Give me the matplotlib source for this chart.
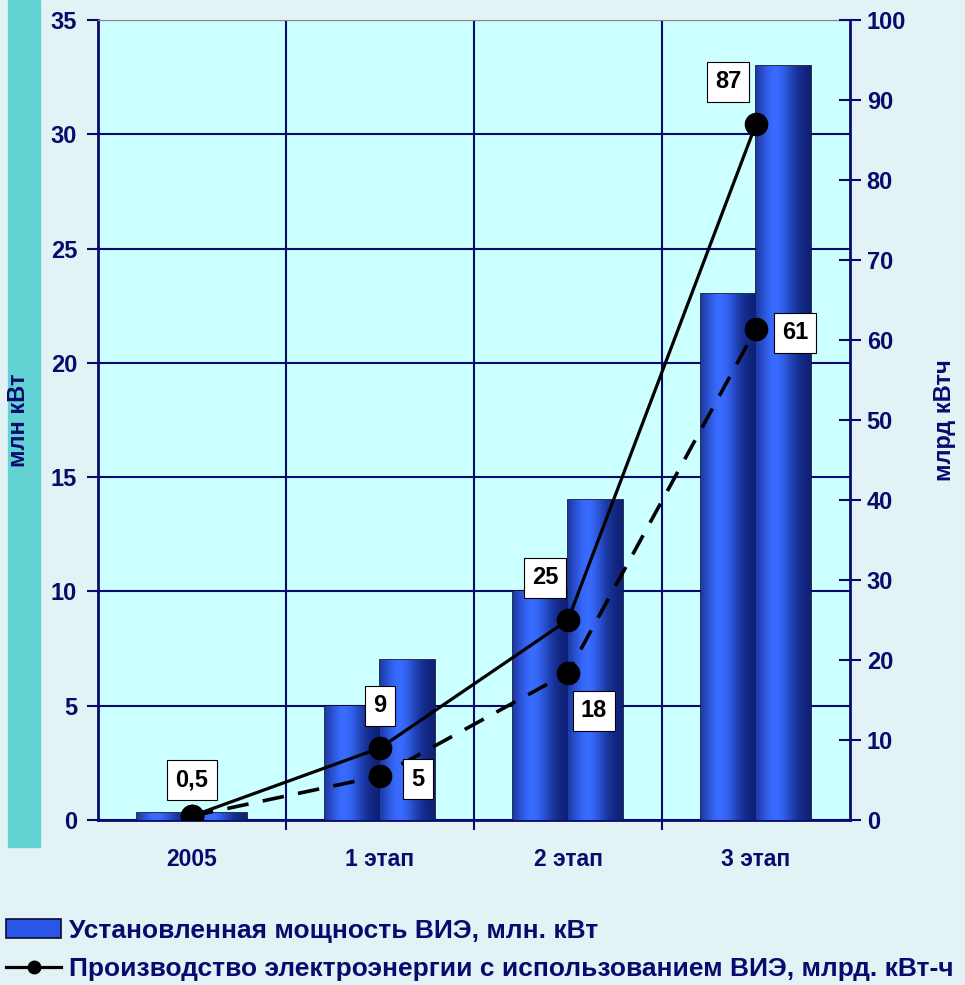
import numpy as np
import matplotlib.pyplot as plt
from matplotlib.patches import Rectangle, Patch
from matplotlib.lines import Line2D

plt.rcParams['font.family'] = ['Liberation Sans', 'DejaVu Sans']
plt.rcParams['font.weight'] = 'bold'

# Data
categories = ["2005", "1 этап", "2 этап", "3 этап"]
capacity_a = [0.3, 5, 10, 23]      # млн кВт, left bar
capacity_b = [0.3, 7, 14, 33]      # млн кВт, right bar
prod_solid = [0.5, 9, 25, 87]      # млрд кВтч
prod_dashed = [0.5, 5.5, 18.4, 61.4]
solid_labels = ["0,5", "9", "25", "87"]
dashed_labels = ["", "5", "18", "61"]

navy = "#0a0a6e"

fig = plt.figure(figsize=(9.65, 9.85), dpi=100)
fig.patch.set_facecolor("#e3f3f5")
# decorative stripe on the left
fig.add_artist(Rectangle((8 / 965, 0.14), 32 / 965, 0.86, transform=fig.transFigure,
                         color="#62d2d2", zorder=0))

ax = fig.add_axes([98 / 965, 1 - 820 / 985, 752 / 965, 800 / 985])
ax.set_facecolor("#ccffff")
x = np.arange(len(categories))
w = 0.29

# gradient for the cylinder-like bars
grad = np.linspace(0, 1, 64)
shade = np.exp(-((grad - 0.35) / 0.35) ** 2)
cmap_cols = np.zeros((1, 64, 3))
dark = np.array([0.05, 0.12, 0.45])
light = np.array([0.22, 0.42, 1.0])
for i, s in enumerate(shade):
    cmap_cols[0, i] = dark + (light - dark) * s

for xs, vals in [(x - w / 2, capacity_a), (x + w / 2, capacity_b)]:
    bc = ax.bar(xs, vals, width=w, color="#2b55e6", edgecolor="#0a0a30",
                linewidth=1.2, zorder=3)
    for rect in bc:
        im = ax.imshow(cmap_cols, extent=[rect.get_x(), rect.get_x() + rect.get_width(),
                                          0, rect.get_height()],
                       aspect="auto", zorder=3.1)
        im.set_clip_path(rect)

ax.set_xlim(-0.5, 3.5)
ax.set_ylim(0, 35)
ax.set_yticks(range(0, 36, 5))
ax.set_xticks(x)
ax.set_xticklabels(categories)
ax.set_xticks([0.5, 1.5, 2.5], minor=True)
ax.grid(axis="y", which="major", color=navy, linewidth=1.5, zorder=1)
ax.grid(axis="x", which="minor", color=navy, linewidth=1.5, zorder=1)
ax.grid(axis="x", which="major", visible=False)
ax.tick_params(axis="x", which="major", length=0, pad=20, labelsize=16.5, labelcolor=navy)
ax.tick_params(axis="x", which="minor", length=7, color=navy, width=1.5)
ax.tick_params(axis="y", length=8, width=1.5, color=navy, labelsize=17, labelcolor=navy, pad=7)
for side in ["left", "bottom"]:
    ax.spines[side].set_color(navy)
    ax.spines[side].set_linewidth(2)
ax.spines["top"].set_color("#888888")
ax.spines["right"].set_visible(False)
ax.set_ylabel("млн кВт", color=navy, fontsize=17, fontweight="bold")
ax.yaxis.set_label_coords(-68 / 752, 0.5)
ax.set_axisbelow(True)

ax2 = ax.twinx()
ax2.set_ylim(0, 100)
ax2.set_yticks(range(0, 101, 10))
ax2.tick_params(axis="y", direction="inout", length=16, width=1.5, color=navy,
                labelsize=17, labelcolor=navy, pad=4)
ax2.spines["right"].set_color(navy)
ax2.spines["right"].set_linewidth(2)
for side in ["left", "top", "bottom"]:
    ax2.spines[side].set_visible(False)
ax2.set_ylabel("млрд кВтч", color=navy, fontsize=17, fontweight="bold", rotation=90)
ax2.yaxis.set_label_coords(1 + 83 / 752, 0.5)

ax2.plot(x, prod_solid, color="black", linewidth=2.3, marker="o", markersize=16, zorder=5)
ax2.plot(x, prod_dashed, color="black", linewidth=2.6, linestyle=(0, (6, 4)),
         marker="o", markersize=16, zorder=5)

box = dict(boxstyle="square,pad=0.35", facecolor="white", edgecolor="black", linewidth=0.8)
solid_offsets = [(0, 36), (0, 42), (-23, 42), (-28, 42)]
dashed_offsets = [(0, 0), (38, -3), (26, -38), (39, -4)]
for i in range(len(x)):
    dx, dy = solid_offsets[i]
    ax2.annotate(solid_labels[i], (x[i], prod_solid[i]), xytext=(dx, dy),
                 textcoords="offset pixels", ha="center", va="center",
                 fontsize=17, fontweight="bold", bbox=box, zorder=6)
    if dashed_labels[i]:
        dx, dy = dashed_offsets[i]
        ax2.annotate(dashed_labels[i], (x[i], prod_dashed[i]), xytext=(dx, dy),
                     textcoords="offset pixels", ha="center", va="center",
                     fontsize=17, fontweight="bold", bbox=box, zorder=6)

# Legend
handles = [Patch(facecolor="#2b55e6", edgecolor="#0a0a30", linewidth=1.2),
           Line2D([], [], color="black", linewidth=2.3, marker="o", markersize=9)]
labels = ["Установленная мощность ВИЭ, млн. кВт",
          "Производство электроэнергии с использованием ВИЭ, млрд. кВт-ч"]
leg = fig.legend(handles, labels, loc="lower left", bbox_to_anchor=(-0.013, -0.015),
                 frameon=False, fontsize=19, handlelength=2.1, handletextpad=0.3,
                 labelspacing=0.55, borderaxespad=0.3)
for t in leg.get_texts():
    t.set_color(navy)
    t.set_fontweight("bold")

fig.savefig("out.png", dpi=100, facecolor=fig.get_facecolor())
